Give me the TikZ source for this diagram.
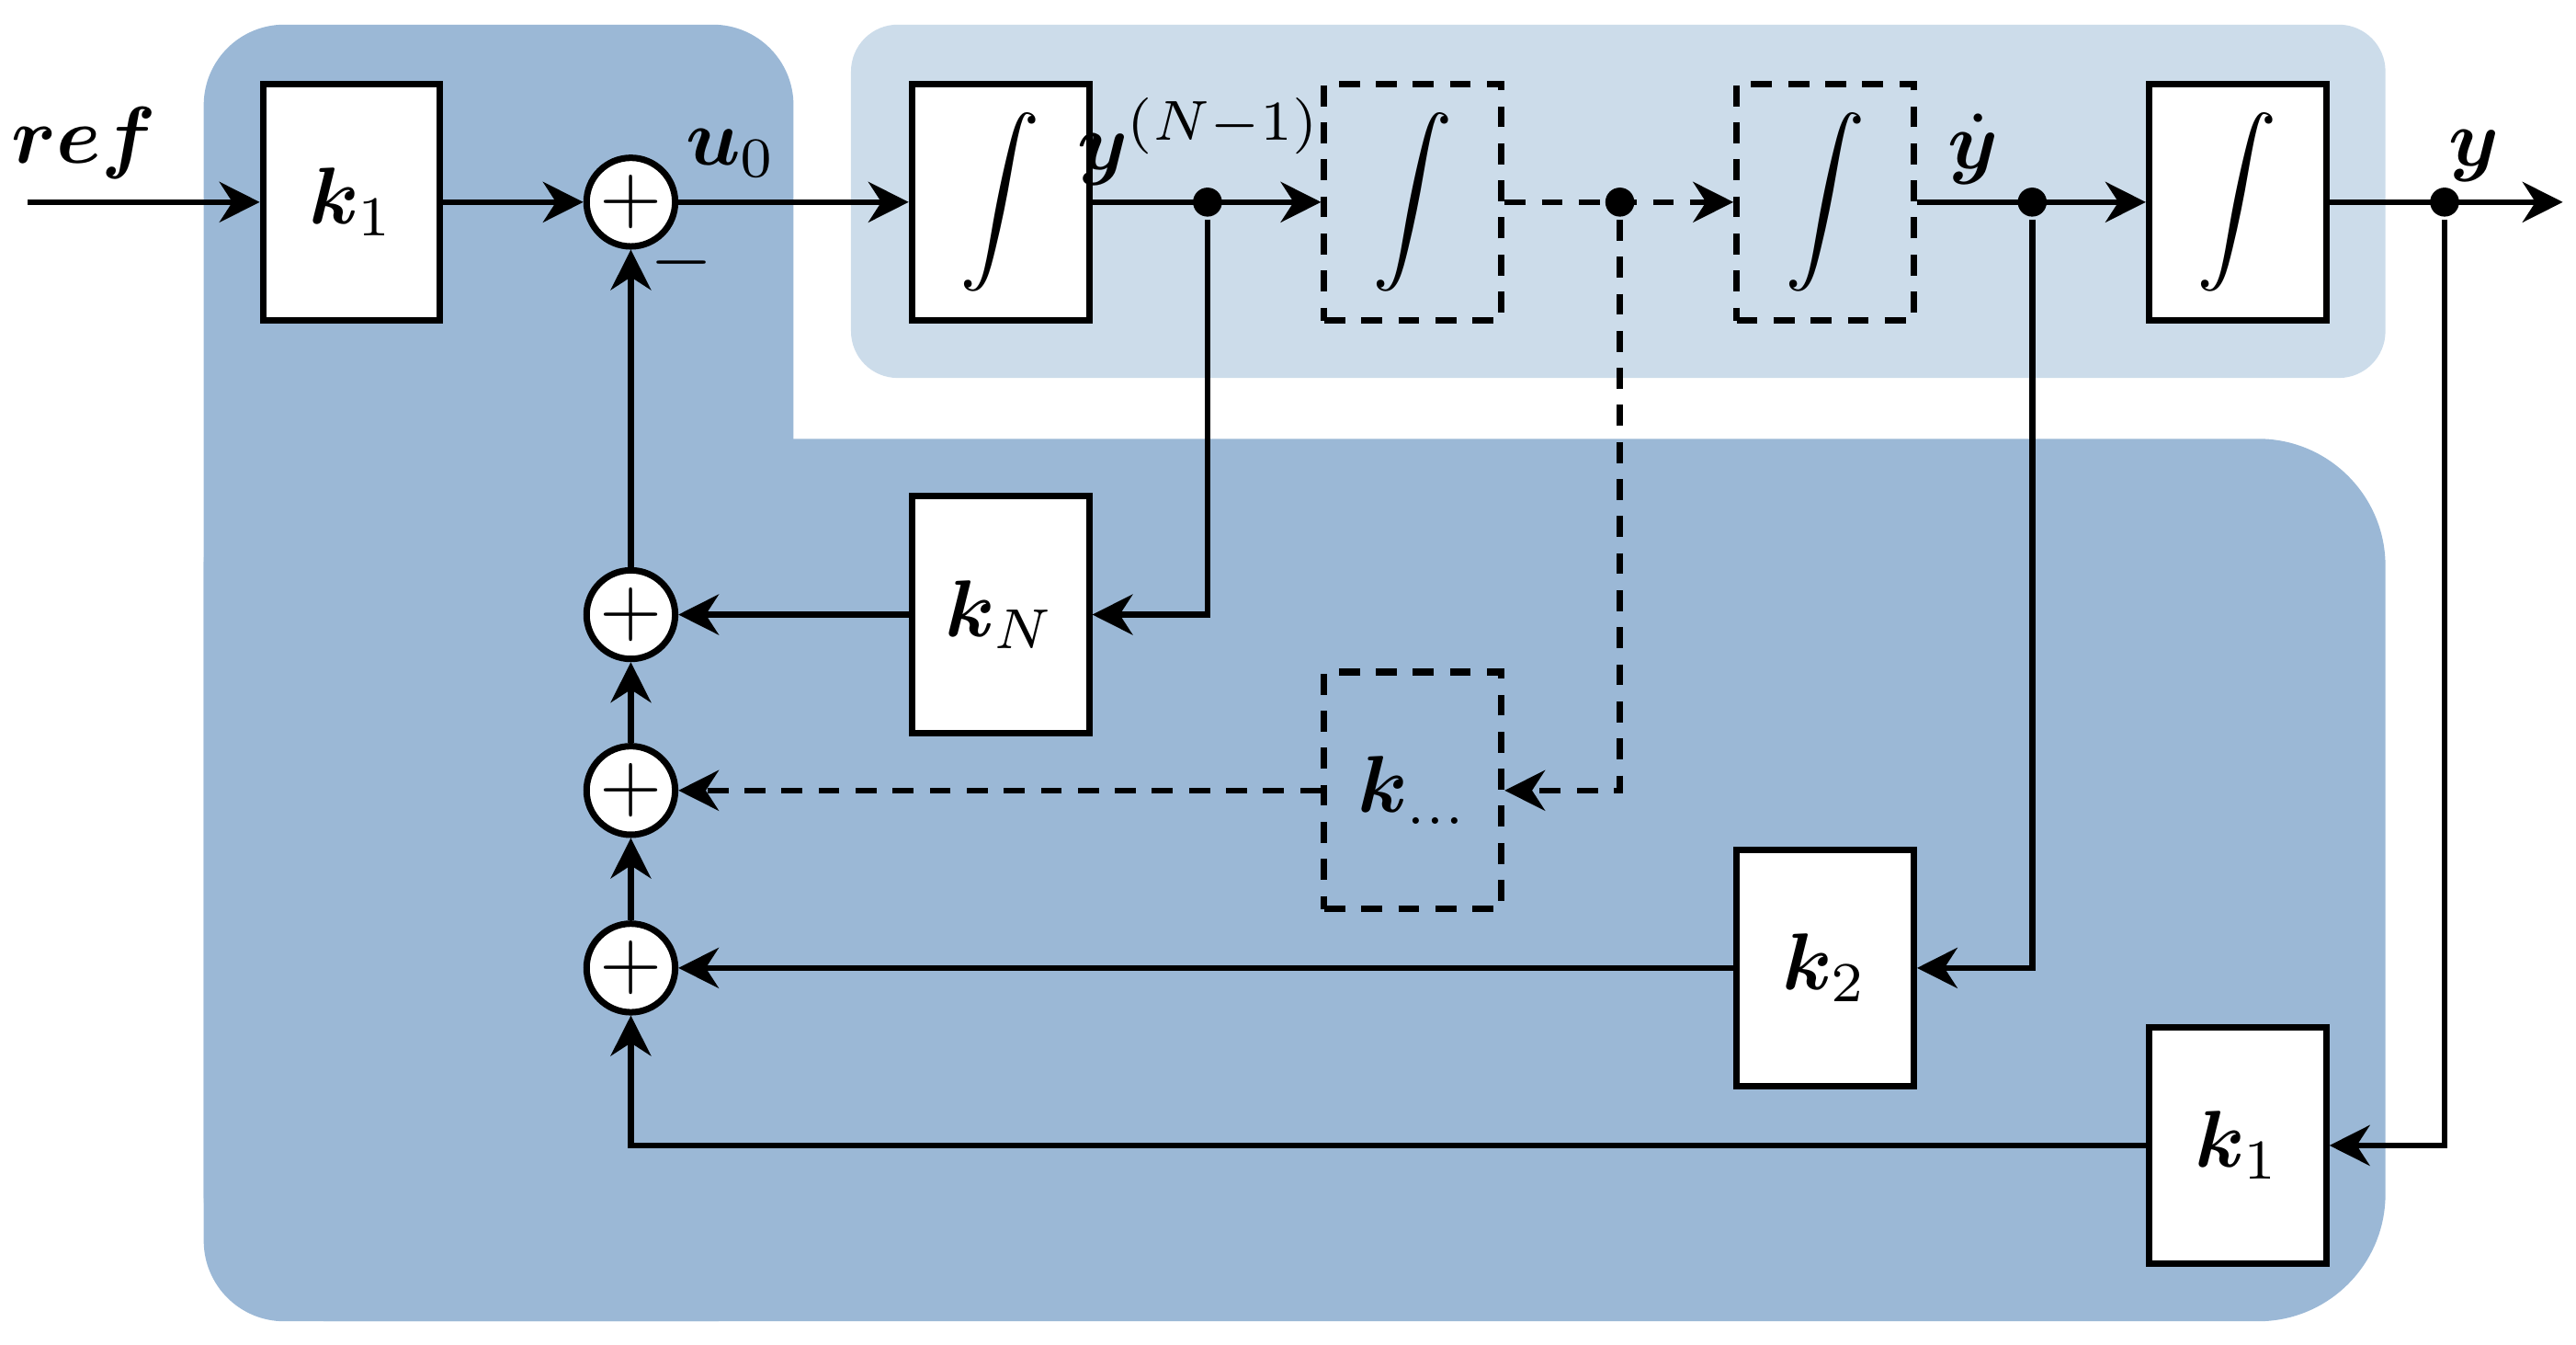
\documentclass[tikz,border=0pt]{standalone}
\usepackage{amsmath,bm}
\usetikzlibrary{arrows.meta}
\definecolor{darkreg}{RGB}{155,184,214}
\definecolor{lightreg}{RGB}{204,220,234}
\begin{document}
\begin{tikzpicture}[x=0.204pt,y=-0.204pt,
  line width=0.75pt,
  blk/.style={draw,line width=0.8pt,fill=white,minimum width=22pt,minimum height=29.4pt,inner sep=0pt},
  dblk/.style={draw,line width=0.8pt,dash pattern=on 2.6pt off 2pt,minimum width=22pt,minimum height=29.4pt,inner sep=0pt},
  sumn/.style={circle,draw,line width=0.8pt,fill=white,minimum size=11pt,inner sep=0pt},
  dotn/.style={circle,fill=black,inner sep=0pt,minimum size=3.6pt},
  arr/.style={-{Stealth[length=5pt,width=5pt,inset=1.6pt]}},
  dsh/.style={dash pattern=on 2.6pt off 2pt},
  lbl/.style={inner sep=0pt}]
\useasboundingbox (0,0) rectangle (1568,818);
% regions
\fill[darkreg,rounded corners=10pt] (124,15) rectangle (483,804);
\fill[darkreg,rounded corners=15.8pt] (124,267) rectangle (1452,804);
\fill[darkreg] (124,267) rectangle (483,700);
\fill[lightreg,rounded corners=5.8pt] (518,15) rectangle (1452,230);
% nodes
\node[blk] (k1) at (214,123) {$\bm{k}_1$};
\node[sumn] (s1) at (384,123) {$+$};
\node[blk] (i1) at (609,123) {$\displaystyle\int$};
\node[dblk] (i2) at (860,123) {$\displaystyle\int$};
\node[dblk] (i3) at (1111,123) {$\displaystyle\int$};
\node[blk] (i4) at (1362,123) {$\displaystyle\int$};
\node[sumn] (s2) at (384,374) {$+$};
\node[sumn] (s3) at (384,481) {$+$};
\node[sumn] (s4) at (384,589) {$+$};
\node[blk] (kN) at (609,374) {$\bm{k}_N$};
\node[dblk] (kd) at (860,481) {$\bm{k}_{\ldots}$};
\node[blk] (k2) at (1111,589) {$\bm{k}_2$};
\node[blk] (k1b) at (1362,697) {$\bm{k}_1$};
\node[dotn] (d1) at (735,123) {};
\node[dotn] (d2) at (986,123) {};
\node[dotn] (d3) at (1237,123) {};
\node[dotn] (d4) at (1488,123) {};
\coordinate (in) at (17,123);
\coordinate (out) at (1560,123);
% labels
\node[lbl] (lref) at (51,87) {$\bm{ref}$};
\node[lbl] (lu) at (445,93) {$\bm{u}_0$};
\node[lbl] (lyn) at (730,86) {$\bm{y}^{(N-1)}$};
\node[lbl] (lyd) at (1201,91) {$\dot{\bm{y}}$};
\node[lbl] (ly) at (1506,95) {$\bm{y}$};
\node[lbl] (lm) at (415,160) {$-$};
% connectors
\draw[arr] (in) -- (k1.west);
\draw[arr] (k1) -- (s1);
\draw[arr] (s1) -- (i1);
\draw[arr] (i1) -- (i2);
\draw[arr,dsh] (i2) -- (i3);
\draw[arr] (i3) -- (i4);
\draw[arr] (i4) -- (out);
\draw[arr] (d1) |- (kN);
\draw[arr,dsh] (d2) |- (kd);
\draw[arr] (d3) |- (k2);
\draw[arr] (d4) |- (k1b);
\draw[arr] (kN) -- (s2);
\draw[arr,dsh] (kd) -- (s3);
\draw[arr] (k2) -- (s4);
\draw[arr] (k1b) -| (s4);
\draw[arr] (s4) -- (s3);
\draw[arr] (s3) -- (s2);
\draw[arr] (s2) -- (s1);
\end{tikzpicture}
\end{document}
